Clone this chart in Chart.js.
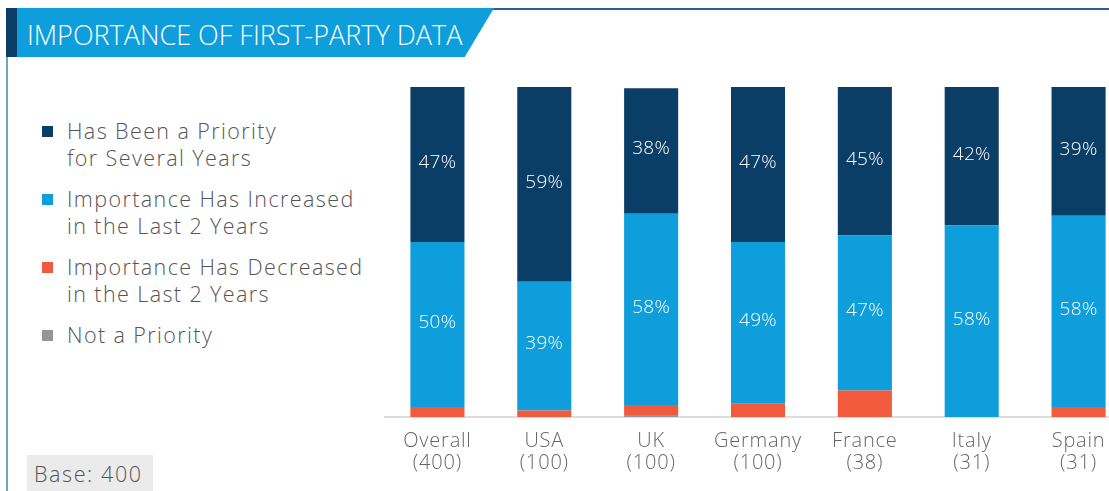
<!DOCTYPE html>
<html>
<head>
<meta charset="utf-8">
<script src="https://cdn.jsdelivr.net/npm/chart.js@4/dist/chart.umd.min.js"></script>
<style>
  html, body { margin: 0; padding: 0; width: 1109px; height: 491px; overflow: hidden; background: #fff; font-family: "Open Sans", "Liberation Sans", sans-serif; }
  #topline { position: absolute; left: 480px; top: 8px; width: 640px; height: 2px; background: #2f5f8a; }
  #leftline { position: absolute; left: 6px; top: 56px; width: 2px; height: 440px; background: #7aa0c0; }
  #banner { position: absolute; left: 6px; top: 8px; width: 488px; height: 49px; background: #0e9edb;
            clip-path: polygon(0 0, 100% 0, 94% 100%, 0 100%); }
  #banner .strip { position: absolute; left: 0; top: 0; width: 11px; height: 100%; background: #0b3e66; }
  #banner .txt { position: absolute; left: 21px; top: 8px; color: #fff; font-size: 27px; font-weight: 300; letter-spacing: 0; white-space: nowrap; }
  #legend { position: absolute; left: 42px; top: 117px; }
  .item { position: relative; padding-left: 25px; color: #555; font-size: 21.5px; font-weight: 300; line-height: 27px; margin-bottom: 14px; white-space: nowrap; letter-spacing: 1.4px; }
  .item .sq { position: absolute; left: 0; top: 9px; width: 11px; height: 11px; }
  #base { position: absolute; left: 27px; top: 455px; width: 126px; height: 36px; background: #ebebeb; color: #555;
          font-size: 21.5px; font-weight: 300; line-height: 38px; padding-left: 7px; box-sizing: border-box; white-space: nowrap; letter-spacing: 1.6px; }
  #wrap { position: absolute; left: 384px; top: 0; width: 748px; height: 491px; }
</style>
</head>
<body>
<div id="topline"></div>
<div id="leftline"></div>
<div id="banner"><div class="strip"></div><div class="txt">IMPORTANCE OF FIRST-PARTY DATA</div></div>
<div id="legend"></div>
<div id="base">Base: 400</div>
<div id="wrap"><canvas id="barChart" width="748" height="491"></canvas></div>
<script>
var categories = [['Overall', '(400)'], ['USA', '(100)'], ['UK', '(100)'], ['Germany', '(100)'], ['France', '(38)'], ['Italy', '(31)'], ['Spain', '(31)']];
var seriesNames = [
    ['Has Been a Priority', 'for Several Years'],
    ['Importance Has Increased', 'in the Last 2 Years'],
    ['Importance Has Decreased', 'in the Last 2 Years'],
    ['Not a Priority']
];
var notPriority = [0, 0, 0.6, 0, 0, 0, 0];
var decreased = [3, 2, 3, 4, 8, 0, 3];
var increased = [50, 39, 58, 49, 47, 58, 58];
var priority = [47, 59, 38, 47, 45, 42, 39];
var colors = ['#0b3e66', '#0e9edb', '#f15a3c', '#939598'];

// stacked from the bottom: not priority, decreased, increased, priority
var datasets = [
    { label: seriesNames[3], data: notPriority, backgroundColor: colors[3], showValue: false },
    { label: seriesNames[2], data: decreased, backgroundColor: colors[2], showValue: false },
    { label: seriesNames[1], data: increased, backgroundColor: colors[1], showValue: true },
    { label: seriesNames[0], data: priority, backgroundColor: colors[0], showValue: true }
];

// html legend, in the order of the picture
var legend = document.getElementById('legend');
seriesNames.forEach(function (name, i) {
    var div = document.createElement('div');
    div.className = 'item';
    div.innerHTML = '<span class="sq" style="background:' + colors[i] + '"></span>' + name.join('<br>');
    legend.appendChild(div);
});

// a little tracking, like the original
var tracking = {
    id: 'tracking',
    beforeInit: function (chart) { chart.ctx.letterSpacing = '0.8px'; },
    beforeDraw: function (chart) { chart.ctx.letterSpacing = '0.8px'; }
};

var valueLabels = {
    id: 'valueLabels',
    afterDatasetsDraw: function (chart) {
        var ctx = chart.ctx;
        ctx.save();
        ctx.fillStyle = '#fff';
        ctx.font = '300 19px "Open Sans"';
        ctx.letterSpacing = '0.3px';
        ctx.textAlign = 'center';
        ctx.textBaseline = 'middle';
        chart.data.datasets.forEach(function (ds, i) {
            if (!ds.showValue) return;
            chart.getDatasetMeta(i).data.forEach(function (bar, j) {
                var y = (bar.y + bar.base) / 2;
                ctx.fillText(ds.data[j] + '%', bar.x, y - 2);
            });
        });
        ctx.restore();
    }
};

var ctx = document.getElementById('barChart').getContext('2d');
var barChart = new Chart(ctx, {
    type: 'bar',
    data: { labels: categories, datasets: datasets },
    plugins: [tracking, valueLabels],
    options: {
        responsive: false,
        animation: false,
        layout: { padding: { top: 87, left: 0, right: 0, bottom: 0 } },
        datasets: { bar: { categoryPercentage: 1, barPercentage: 0.506 } },
        scales: {
            x: {
                stacked: true,
                grid: { display: false, drawTicks: false },
                border: { color: '#dcdcdc', width: 2 },
                ticks: { color: '#666', font: { family: 'Open Sans', size: 20, weight: 300, lineHeight: 1.1 }, padding: 13, maxRotation: 0, autoSkip: false },
                afterFit: function (scale) { scale.height = 74; }
            },
            y: { stacked: true, display: false, min: 0, max: 100 }
        },
        plugins: { legend: { display: false }, tooltip: { enabled: false } }
    }
});
</script>
</body>
</html>
